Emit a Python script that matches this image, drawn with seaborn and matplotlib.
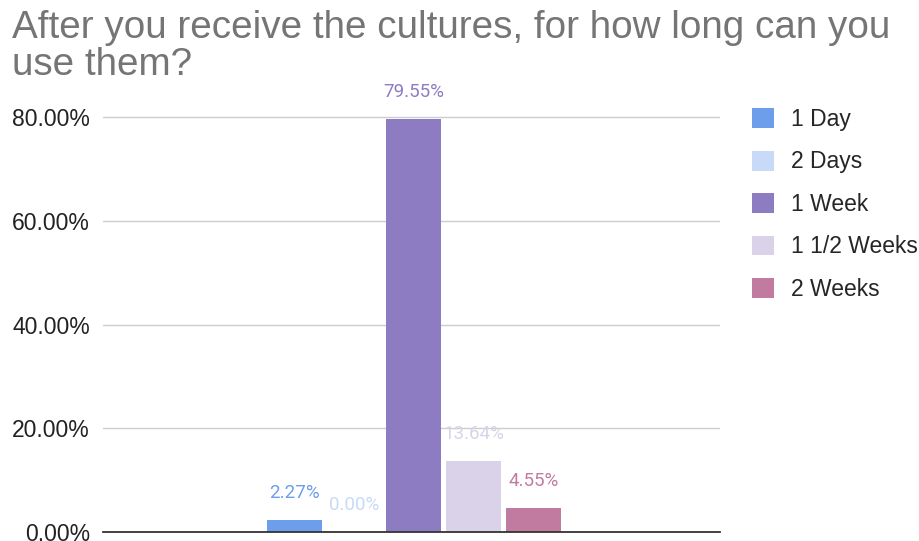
import numpy as np
import pandas as pd
import matplotlib
matplotlib.use("Agg")
import matplotlib.pyplot as plt
import seaborn as sns

sns.set_style("white")
plt.rcParams['font.family'] = ['Liberation Sans', 'DejaVu Sans']

# data
answers = ["1 Day", "2 Days", "1 Week", "1 1/2 Weeks", "2 Weeks"]
percents = [2.27, 0.00, 79.55, 13.64, 4.55]
colors = ["#6d9eeb", "#c9daf8", "#8e7cc3", "#d9d2e9", "#c27ba0"]
yticks = [0, 20, 40, 60, 80]

df = pd.DataFrame({"q": ["q"] * len(answers), "answer": answers, "pct": percents})

fig = plt.figure(figsize=(9.19, 5.41), dpi=100)
ax = fig.add_axes([103/919, 1-532/541, 617/919, 0.83*5.1875/5.41])

sns.barplot(data=df, x="q", y="pct", hue="answer", hue_order=answers,
            palette=colors, width=0.486, gap=0.083, saturation=1,
            linewidth=0, ax=ax)

for cont, col, val in zip(ax.containers, colors, percents):
    ax.bar_label(cont, labels=["%.2f%%" % val], padding=13, color=col,
                 fontsize=13.5, family=['Roboto', 'DejaVu Sans'])

ax.set_ylim(0, 83)
ax.set_xlim(-0.504, 0.496)
ax.set_yticks(yticks)
ax.set_yticklabels(["%.2f%%" % t for t in yticks])
ax.set_xticks([])
ax.set_xlabel("")
ax.set_ylabel("")
ax.grid(axis="y", color="#cccccc", linewidth=1)
ax.set_axisbelow(True)
ax.tick_params(axis="y", length=0, pad=9.5, labelsize=16.5, labelcolor="#222222")
for s in ["left", "right", "top"]:
    ax.spines[s].set_visible(False)
ax.spines["bottom"].set_color("#333333")
ax.spines["bottom"].set_linewidth(1.3)

ax.legend(loc="upper left", bbox_to_anchor=(1.037, 1.006), frameon=False,
          fontsize=16.5, handlelength=0.95, handleheight=0.95,
          handletextpad=0.75, labelspacing=0.85, borderaxespad=0)

fig.text(12/919, 0.982, "After you receive the cultures, for how long can you\nuse them?",
         ha="left", va="top", fontsize=27.8, color="#757575", linespacing=1.06)

fig.savefig("out.png", dpi=100)
